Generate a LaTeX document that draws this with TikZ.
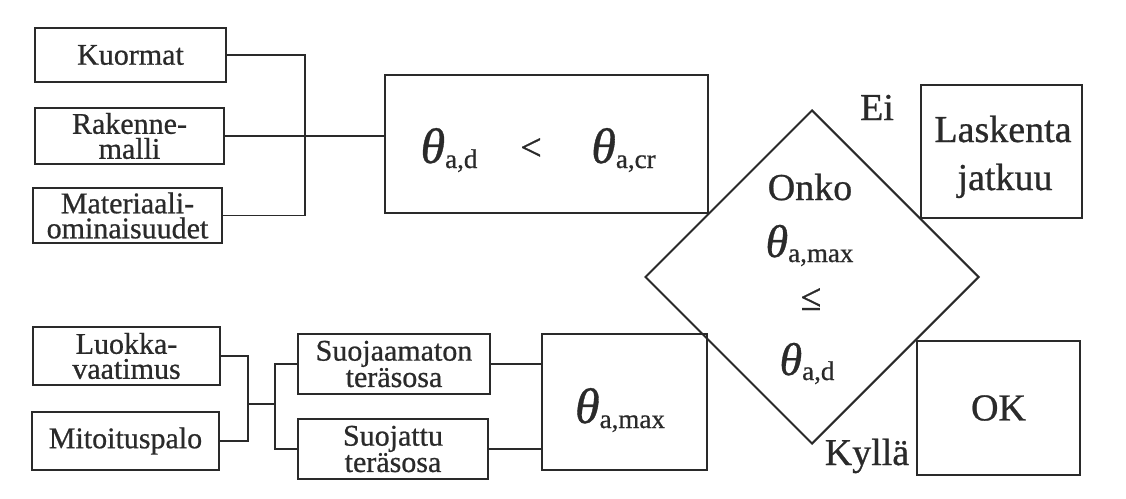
\documentclass[tikz,border=0pt]{standalone}
\usepackage{fontspec}
\setmainfont{Liberation Serif}[FakeBold=0.7]
\usetikzlibrary{shapes.geometric}
\definecolor{ink}{HTML}{2a2a2a}
\newcommand{\thet}{\textit{θ}}
\newcommand{\sub}[1]{\raisebox{-5pt}{\fontsize{27}{27}\selectfont #1}}
\tikzset{
  every node/.style={text=ink},
  smallbox/.style={draw=ink, line width=2pt, inner sep=0pt, align=center,
    font=\fontsize{30}{25}\selectfont},
  bigbox/.style={draw=ink, line width=2pt, inner sep=0pt},
  wire/.style={draw=ink, line width=1.7pt},
  bigtxt/.style={font=\fontsize{38}{38}\selectfont, inner sep=0pt, anchor=base},
  formula/.style={font=\fontsize{50}{50}\selectfont, inner sep=0pt, anchor=base},
}
\begin{document}
\begin{tikzpicture}[x=1pt, y=-1pt]
\useasboundingbox (0,0) rectangle (1126,498);

% input boxes, upper group
\node[smallbox, minimum width=191pt, minimum height=54pt] (kuor) at (130.5,55) {Kuormat};
\node[smallbox, minimum width=189pt, minimum height=56pt] (rak) at (129.5,136) {Rakenne-\\malli};
\node[smallbox, minimum width=189pt, minimum height=55pt] (mat) at (127.5,215.5) {Materiaali-\\ominaisuudet};

% comparison box
\node[bigbox, minimum width=323pt, minimum height=138pt] (cmp) at (546.5,144) {};
\node[formula] (cmpA) at (449,163) {\thet\sub{a,d}};
\node[bigtxt] (cmpLt) at (531,160) {<};
\node[formula] (cmpB) at (623.5,163) {\thet\sub{a,cr}};

% input boxes, lower group
\node[smallbox, minimum width=187pt, minimum height=58pt] (luok) at (126.5,356) {Luokka-\\vaatimus};
\node[smallbox, minimum width=187pt, minimum height=58pt] (mit) at (125.5,441) {Mitoituspalo};
\node[smallbox, minimum width=192pt, minimum height=60pt] (suo1) at (394,364) {Suojaamaton\\teräsosa};
\node[smallbox, minimum width=190pt, minimum height=60pt] (suo2) at (393,449) {Suojattu\\teräsosa};

% maximum temperature box
\node[bigbox, minimum width=165pt, minimum height=136pt] (tmax) at (624.5,402) {};
\node[formula] (tmaxT) at (620,423) {\thet\sub{a,max}};

% decision
\node[diamond, draw=ink, line width=2pt, inner sep=0pt, minimum width=334pt,
      minimum height=334pt] (dec) at (812,277) {};
\node[bigtxt] (decA) at (810,200) {Onko};
\node[formula, font=\fontsize{46}{46}\selectfont] (decB) at (809.5,257) {\thet\sub{a,max}};
\node[bigtxt] (decC) at (811,310) {≤};
\node[formula, font=\fontsize{46}{46}\selectfont] (decD) at (807,375) {\thet\sub{a,d}};

% outcomes
\node[bigbox, minimum width=161pt, minimum height=133pt] (cont) at (1001.5,151.5) {};
\node[bigtxt] (contA) at (1003,142) {Laskenta};
\node[bigtxt] (contB) at (1005,190) {jatkuu};
\node[bigbox, minimum width=163pt, minimum height=134pt, font=\fontsize{38}{38}\selectfont] (ok) at (998.5,408) {OK};
\node[bigtxt] (ei) at (877,120) {Ei};
\node[bigtxt] (kyl) at (867,465) {Kyllä};

% connectors, upper group
\coordinate (jA) at (305,0);
\draw[wire] (kuor.east) -- (kuor.east -| jA) -- (mat.east -| jA) -- (mat.east);
\draw[wire] (rak.east) -- (rak.east -| cmp.west);

% connectors, lower group
\coordinate (jB) at (248,0);
\coordinate (jC) at (275,404);
\draw[wire] (luok.east) -- (luok.east -| jB) -- (mit.east -| jB) -- (mit.east);
\draw[wire] (jC -| jB) -- (jC);
\draw[wire] (suo1.west) -- (suo1.west -| jC) -- (suo2.west -| jC) -- (suo2.west);
\draw[wire] (suo1.east) -- (suo1.east -| tmax.west);
\draw[wire] (suo2.east) -- (suo2.east -| tmax.west);
\end{tikzpicture}
\end{document}
